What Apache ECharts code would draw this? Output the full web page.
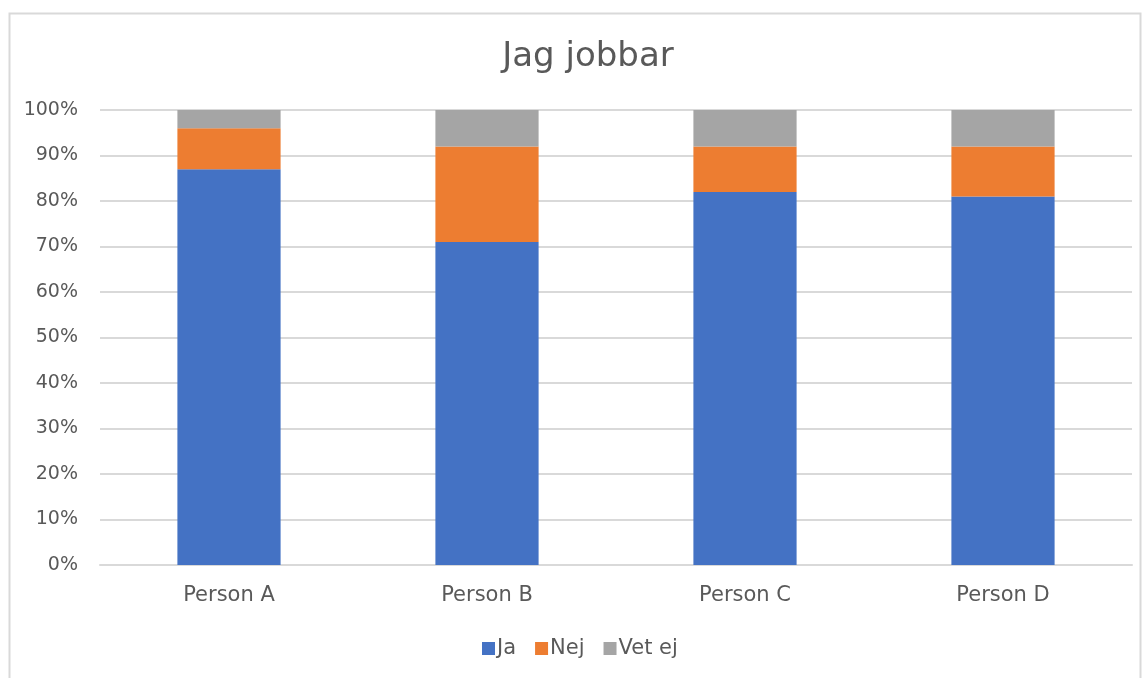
<!DOCTYPE html>
<html>
<head>
<meta charset="utf-8">
<script src="https://cdn.jsdelivr.net/npm/echarts@6/dist/echarts.min.js"></script>
<style>
  html, body { margin: 0; padding: 0; background: #fff; }
  #chart { width: 1148px; height: 678px; }
</style>
</head>
<body>
<div id="chart"></div>
<script>
// kategorier och värden (procent)
var categories = ['Person A', 'Person B', 'Person C', 'Person D'];
var ja = [87, 71, 82, 81];
var nej = [9, 21, 10, 11];
var vetEj = [4, 8, 8, 8];

var font = 'DejaVu Sans';
var textColor = '#595959';

var myChart = echarts.init(document.getElementById('chart'));

myChart.setOption({
  color: ['#4472c4', '#ed7d31', '#a5a5a5'],
  textStyle: { fontFamily: font },
  title: {
    text: 'Jag jobbar',
    left: 583,
    top: 35,
    textAlign: 'center',
    textStyle: { fontFamily: font, fontSize: 34, fontWeight: 'normal', color: textColor }
  },
  graphic: [{
    type: 'rect',
    shape: { x: 9.5, y: 13.5, width: 1131, height: 700 },
    style: { fill: 'none', stroke: '#d9d9d9', lineWidth: 2 },
    silent: true
  }],
  legend: {
    data: ['Ja', 'Nej', 'Vet ej'],
    left: 482,
    top: 638,
    padding: 0,
    itemWidth: 13,
    itemHeight: 13,
    itemGap: 19,
    icon: 'rect',
    textStyle: { fontFamily: font, fontSize: 21, color: textColor, padding: [0, 0, 0, -3] }
  },
  grid: { left: 100, right: 16, top: 110, bottom: 113 },
  xAxis: {
    type: 'category',
    data: categories,
    axisLine: { lineStyle: { color: '#d9d9d9', width: 2 } },
    axisTick: { show: false },
    axisLabel: { fontFamily: font, fontSize: 21, color: textColor, margin: 20 }
  },
  yAxis: {
    type: 'value',
    min: 0,
    max: 100,
    interval: 10,
    axisLine: { show: false },
    axisTick: { show: false },
    splitLine: { lineStyle: { color: '#d9d9d9', width: 2 } },
    axisLabel: { fontFamily: font, fontSize: 19, color: textColor, margin: 22, formatter: '{value}%' }
  },
  series: [
    { name: 'Ja', type: 'bar', stack: 'tot', barWidth: '40%', data: ja },
    { name: 'Nej', type: 'bar', stack: 'tot', data: nej },
    { name: 'Vet ej', type: 'bar', stack: 'tot', data: vetEj }
  ]
});
</script>
</body>
</html>
